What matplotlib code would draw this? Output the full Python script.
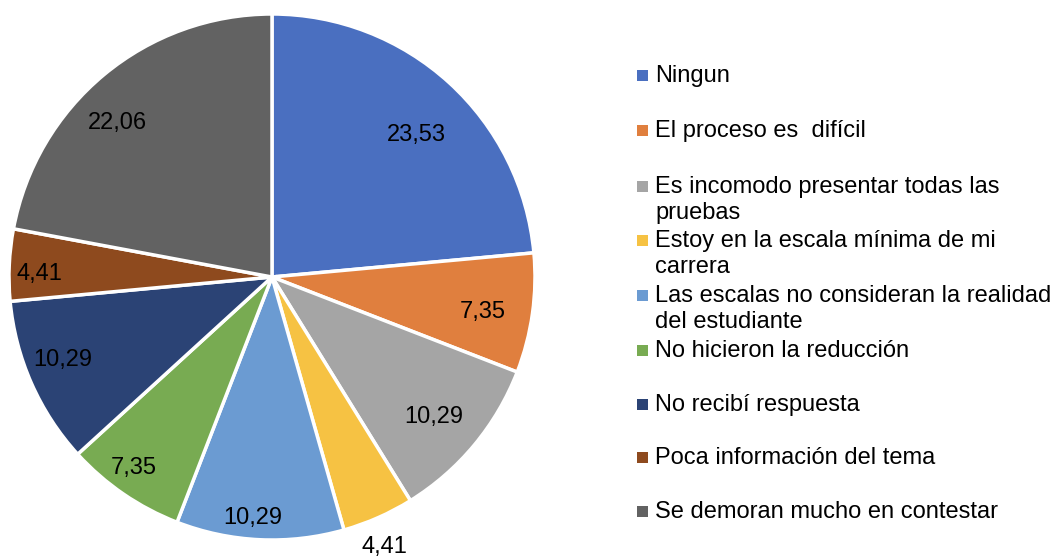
import matplotlib
matplotlib.use("Agg")
import matplotlib.pyplot as plt
import numpy as np
from matplotlib.patches import Rectangle

categories = [
    "Ningun",
    "El proceso es  difícil",
    "Es incomodo presentar todas las\npruebas",
    "Estoy en la escala mínima de mi\ncarrera",
    "Las escalas no consideran la realidad\ndel estudiante",
    "No hicieron la reducción",
    "No recibí respuesta",
    "Poca información del tema",
    "Se demoran mucho en contestar",
]
values = [23.53, 7.35, 10.29, 4.41, 10.29, 7.35, 10.29, 4.41, 22.06]
value_labels = ["23,53", "7,35", "10,29", "4,41", "10,29", "7,35", "10,29", "4,41", "22,06"]

colors = ["#4A6FC0", "#E07F3E", "#A5A5A5", "#F6C243", "#6B9BD2",
          "#78AB52", "#2B4375", "#8E4A1E", "#626262"]
# label placement style: radial distance (fraction of radius) and angular nudge (deg)
label_dist = [0.769, 0.813, 0.814, 1.113, 0.919, 0.896, 0.855, 0.886, 0.831]
label_nudge = [-3.0, -1.5, -1.1, -1.2, -1.9, -1.4, -2.2, 1.9, 5.4]

plt.rcParams['font.family'] = ['Liberation Sans', 'DejaVu Sans']

W, H = 1052, 558
fig = plt.figure(figsize=(W / 100, H / 100), dpi=100)
cx, cy, R = 272, 277, 263
ax = fig.add_axes([(cx - R) / W, (H - cy - R) / H, 2 * R / W, 2 * R / H])
wedges, _ = ax.pie(values, colors=colors, startangle=90, counterclock=False,
                   radius=1.0, wedgeprops=dict(edgecolor="white", linewidth=2.5))
ax.set_xlim(-1, 1)
ax.set_ylim(-1, 1)
ax.set_aspect("equal")
ax.axis("off")

for w, lab, d, nd in zip(wedges, value_labels, label_dist, label_nudge):
    ang = np.deg2rad((w.theta1 + w.theta2) / 2 + nd)
    ax.text(d * np.cos(ang), d * np.sin(ang), lab, ha="center", va="center",
            fontsize=17, color="black", clip_on=False)

# legend
ys = [75, 130, 186, 240, 295, 350, 404, 457, 511]
for y, c, t in zip(ys, colors, categories):
    fig.patches.append(Rectangle((637 / W, 1 - (y + 6) / H), 11 / W, 11 / H,
                                 transform=fig.transFigure, facecolor=c,
                                 edgecolor="none"))
    fig.text(655 / W, 1 - (y - 10) / H, t, ha="left", va="top", fontsize=17.0,
             linespacing=1.22, color="black")

fig.savefig("out.png", dpi=100)
